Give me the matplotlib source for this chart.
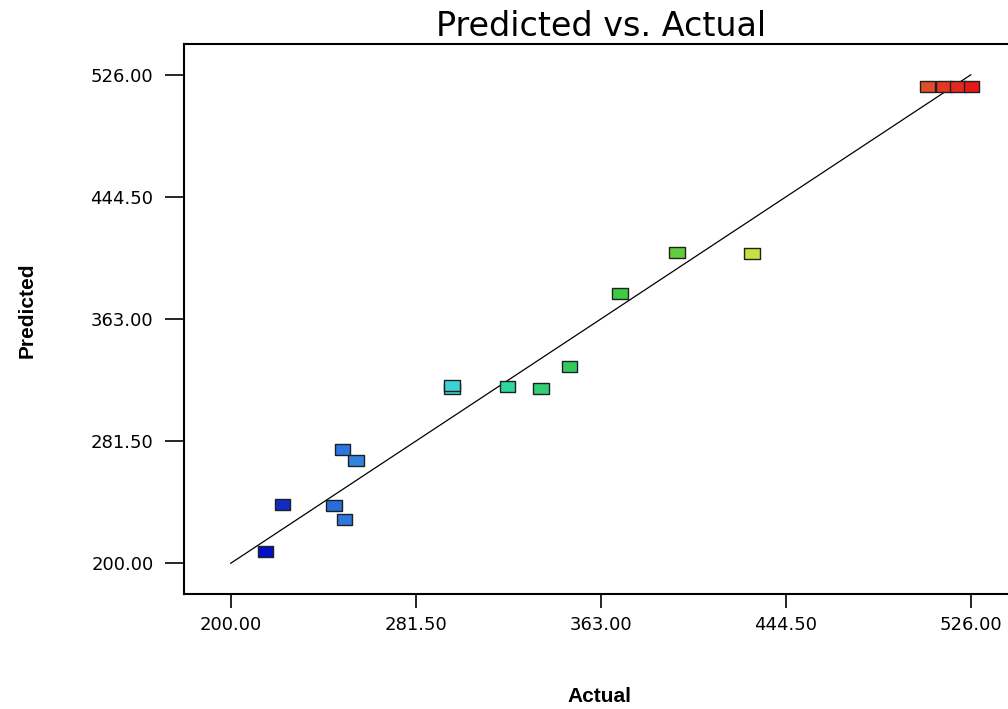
import matplotlib
matplotlib.use("Agg")
import matplotlib.pyplot as plt
import numpy as np
from matplotlib.colors import LinearSegmentedColormap

# actual vs. predicted responses
actual = [215.4, 222.9, 245.4, 250.2, 249.3, 255.1, 297.4, 297.4, 322.0, 336.6,
          349.3, 371.4, 396.5, 429.5, 507.0, 514.1, 520.3, 526.4]
predicted = [208.0, 239.3, 238.6, 229.3, 275.8, 268.5, 316.4, 318.4, 317.8, 316.4,
             331.1, 380.3, 407.6, 406.9, 518.0, 518.0, 518.0, 518.0]

tick_values = [200.00, 281.50, 363.00, 444.50, 526.00]
tick_labels = [f"{v:.2f}" for v in tick_values]

lo, hi = 179.4, 546.6

cmap = LinearSegmentedColormap.from_list(
    "de_rainbow",
    [(0.00, "#0010c8"),
     (0.03, "#1434c0"),
     (0.11, "#2c78e0"),
     (0.26, "#3cd2d8"),
     (0.34, "#30d8a0"),
     (0.40, "#34cc70"),
     (0.45, "#34c850"),
     (0.52, "#40cc40"),
     (0.58, "#5ccc3c"),
     (0.69, "#c8e040"),
     (0.94, "#e05028"),
     (1.00, "#e81818")],
)

fig = plt.figure(figsize=(10.08, 7.09), dpi=100)
ax = fig.add_axes([0.1825, 0.162, 0.827, 0.776])

ax.plot([200, 526], [200, 526], color="black", lw=0.9, zorder=2)

# flattened boxes like the Design-Expert markers
box = [(-1, -0.72), (1, -0.72), (1, 0.72), (-1, 0.72), (-1, -0.72)]
ax.scatter(actual, predicted, c=actual, cmap=cmap, vmin=215, vmax=526,
           marker=box, s=125, edgecolors="#202020", linewidths=1.0, zorder=3)

ax.set_xlim(lo, hi)
ax.set_ylim(lo, hi)
ax.set_xticks(tick_values)
ax.set_xticklabels(tick_labels)
ax.set_yticks(tick_values)
ax.set_yticklabels(tick_labels)
ax.tick_params(direction="out", width=1.2, labelsize=13,
               labelfontfamily="DejaVu Sans")
ax.tick_params(axis="x", length=10, pad=6)
ax.tick_params(axis="y", length=14, pad=8)
for side in ["left", "top", "bottom"]:
    ax.spines[side].set_linewidth(1.5)
ax.spines["right"].set_visible(False)

ax.set_title("Predicted vs. Actual", fontsize=24, family="DejaVu Sans", pad=6)
fig.text(0.595, 0.004, "Actual", fontsize=15, family="Liberation Sans",
         weight="bold", ha="center", va="bottom")
fig.text(0.027, 0.563, "Predicted", fontsize=15, family="Liberation Sans",
         weight="bold", ha="center", va="center", rotation=90)

fig.savefig("out.png", dpi=100)
